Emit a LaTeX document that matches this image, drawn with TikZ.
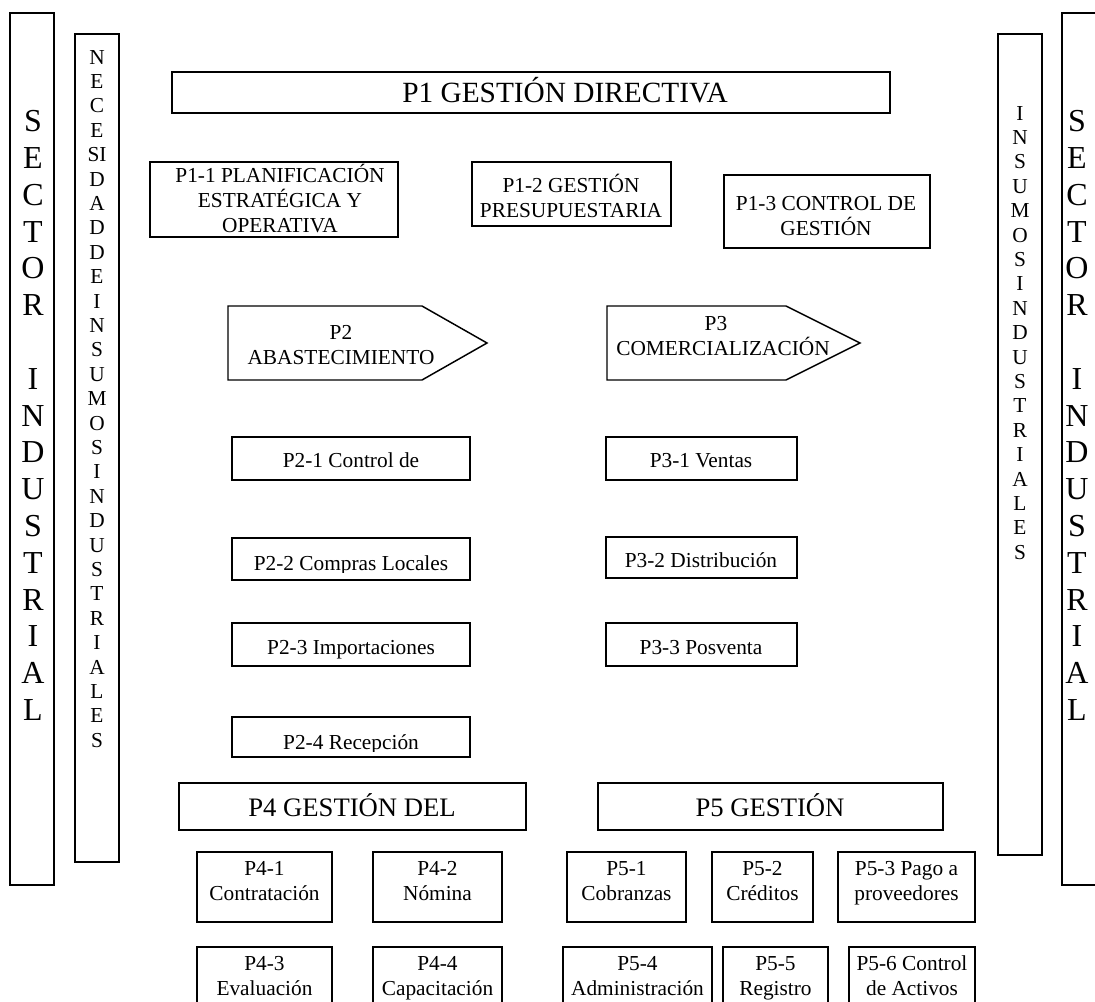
\documentclass[tikz,border=0pt]{standalone}
\usepackage{fontspec}
\setmainfont{Liberation Serif}
\usetikzlibrary{fit}
\tikzset{
  box/.style={draw, line width=1.1pt, inner sep=0pt},
  t16/.style={anchor=base, inner sep=0pt, font=\fontsize{16}{18}\selectfont},
  t20/.style={anchor=base, inner sep=0pt, font=\fontsize{20}{23}\selectfont},
  t22/.style={anchor=base, inner sep=0pt, font=\fontsize{22}{25}\selectfont},
  t24/.style={anchor=base, inner sep=0pt, font=\fontsize{24}{27}\selectfont},
}
\begin{document}
\begin{tikzpicture}[x=0.75pt, y=-0.75pt]
\useasboundingbox (0,0) rectangle (1095,1001);
\clip (0,0) rectangle (1095,1001);

% side columns
\node[box, fit={(10,13) (54,885)}] (secL) {};
\node[box, fit={(75,34) (119,862)}] (necL) {};
\node[box, fit={(998,34) (1042,855)}] (insR) {};
\node[box, fit={(1062,13) (1110,885)}] (secR) {};

\foreach \c [count=\i from 0] in {S,E,C,T,O,R,{},I,N,D,U,S,T,R,I,A,L} {
  \node[t24] (sl\i) at (33, 131.6+36.8*\i) {\c};
  \node[t24] (sr\i) at (1077, 131.6+36.8*\i) {\c};
}
\foreach \c [count=\i from 0] in {N,E,C,E,SI,D,A,D,D,E,I,N,S,U,M,O,S,I,N,D,U,S,T,R,I,A,L,E,S}
  \node[t16] (nl\i) at (97, 64+24.4*\i) {\c};
\foreach \c [count=\i from 0] in {I,N,S,U,M,O,S,I,N,D,U,S,T,R,I,A,L,E,S}
  \node[t16] (ir\i) at (1020, 120+24.4*\i) {\c};

% P1 block
\node[box, fit={(172,72) (890,113)}] (p1) {};
\node[t22] (p1t) at (565,102) {P1 GESTIÓN DIRECTIVA};

\node[box, fit={(150,162) (398,237)}] (p11) {};
\node[t16] (p11a) at (280,182) {P1-1 PLANIFICACIÓN};
\node[t16] (p11b) at (280,207) {ESTRATÉGICA Y};
\node[t16] (p11c) at (280,232) {OPERATIVA};

\node[box, fit={(472,162) (671,226)}] (p12) {};
\node[t16] (p12a) at (571,192) {P1-2 GESTIÓN};
\node[t16] (p12b) at (571,217) {PRESUPUESTARIA};

\node[box, fit={(724,175) (930,248)}] (p13) {};
\node[t16] (p13a) at (826,210) {P1-3 CONTROL DE};
\node[t16] (p13b) at (826,235) {GESTIÓN};

% P2 / P3 pointed boxes
\draw[box] (228,306) coordinate (p2nw) -- (422,306) -- (487,343) coordinate (p2tip)
  -- (422,380) -- (228,380) -- cycle;
\node[t16] (p2a) at (341,339) {P2};
\node[t16] (p2b) at (341,364) {ABASTECIMIENTO};

\draw[box] (607,306) coordinate (p3nw) -- (786,306) -- (860,343) coordinate (p3tip)
  -- (786,380) -- (607,380) -- cycle;
\node[t16] (p3a) at (716,330) {P3};
\node[t16] (p3b) at (723,355) {COMERCIALIZACIÓN};

% P2 sub-processes
\node[box, fit={(232,437) (470,480)}] (p21) {};
\node[t16] (p21t) at (351,467) {P2-1 Control de};
\node[box, fit={(232,538) (470,580)}] (p22) {};
\begin{scope}
  \clip (232,538) rectangle (470,572);
  \node[t16] (p22t) at (351,570) {P2-2 Compras Locales};
\end{scope}
\node[box, fit={(232,623) (470,666)}] (p23) {};
\node[t16] (p23t) at (351,654) {P2-3 Importaciones};
\node[box, fit={(232,717) (470,757)}] (p24) {};
\begin{scope}
  \clip (232,717) rectangle (470,751);
  \node[t16] (p24t) at (351,749) {P2-4 Recepción};
\end{scope}

% P3 sub-processes
\node[box, fit={(606,437) (797,480)}] (p31) {};
\node[t16] (p31t) at (701,467) {P3-1 Ventas};
\node[box, fit={(606,537) (797,578)}] (p32) {};
\node[t16] (p32t) at (701,567) {P3-2 Distribución};
\node[box, fit={(606,623) (797,666)}] (p33) {};
\node[t16] (p33t) at (701,654) {P3-3 Posventa};

% P4 / P5
\node[box, fit={(179,783) (526,830)}] (p4) {};
\node[t20] (p4t) at (352,816) {P4 GESTIÓN DEL};
\node[box, fit={(598,783) (943,830)}] (p5) {};
\node[t20] (p5t) at (770,816) {P5 GESTIÓN};

% first row of sub-processes
\node[box, fit={(197,852) (332,922)}] (p41) {};
\node[t16] at (264.5,875) (p41a) {P4-1};
\node[t16] at (264.5,900) (p41b) {Contratación};
\node[box, fit={(373,852) (502,922)}] (p42) {};
\node[t16] at (437.5,875) (p42a) {P4-2};
\node[t16] at (437.5,900) (p42b) {Nómina};
\node[box, fit={(567,852) (686,922)}] (p51) {};
\node[t16] at (626.5,875) (p51a) {P5-1};
\node[t16] at (626.5,900) (p51b) {Cobranzas};
\node[box, fit={(712,852) (813,922)}] (p52) {};
\node[t16] at (762.5,875) (p52a) {P5-2};
\node[t16] at (762.5,900) (p52b) {Créditos};
\node[box, fit={(838,852) (975,922)}] (p53) {};
\node[t16] at (906.5,875) (p53a) {P5-3 Pago a};
\node[t16] at (906.5,900) (p53b) {proveedores};

% second row of sub-processes
\node[box, fit={(197,947) (332,1012)}] (p43) {};
\node[t16] at (264.5,970) (p43a) {P4-3};
\node[t16] at (264.5,995) (p43b) {Evaluación};
\node[box, fit={(373,947) (502,1012)}] (p44) {};
\node[t16] at (437.5,970) (p44a) {P4-4};
\node[t16] at (437.5,995) (p44b) {Capacitación};
\node[box, fit={(563,947) (712,1012)}] (p54) {};
\node[t16] at (637.5,970) (p54a) {P5-4};
\node[t16] at (637.5,995) (p54b) {Administración};
\node[box, fit={(723,947) (828,1012)}] (p55) {};
\node[t16] at (775.5,970) (p55a) {P5-5};
\node[t16] at (775.5,995) (p55b) {Registro};
\node[box, fit={(849,947) (975,1012)}] (p56) {};
\node[t16] at (912,970) (p56a) {P5-6 Control};
\node[t16] at (912,995) (p56b) {de Activos};
\end{tikzpicture}
\end{document}
